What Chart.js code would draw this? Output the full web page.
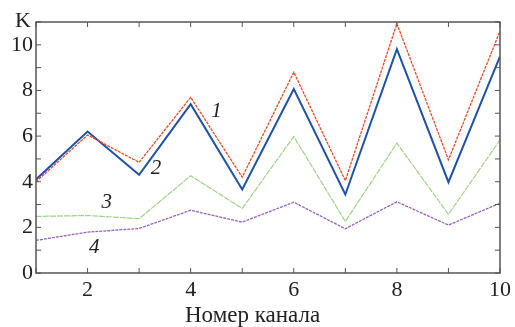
<!doctype html>
<html lang="ru">
<head>
<meta charset="utf-8">
<script src="https://cdn.jsdelivr.net/npm/chart.js"></script>
<title>K по каналам</title>
<style>
  body { margin: 0; background: #fff; }
  #wrap { width: 515px; height: 327px; }
</style>
</head>
<body>
<div id="wrap"><canvas id="myChart" width="515" height="327"></canvas></div>
<script>
// channel numbers and K values
var channels = [1, 2, 3, 4, 5, 6, 7, 8, 9, 10];
var curve1 = [4.0, 6.05, 4.85, 7.7, 4.2, 8.8, 4.05, 10.93, 4.96, 10.6];
var curve2 = [4.1, 6.2, 4.3, 7.4, 3.66, 8.06, 3.44, 9.81, 3.98, 9.49];
var curve3 = [2.48, 2.52, 2.38, 4.26, 2.83, 5.98, 2.26, 5.69, 2.57, 5.83];
var curve4 = [1.43, 1.79, 1.95, 2.75, 2.23, 3.1, 1.94, 3.12, 2.1, 3.06];
// curve number labels, placed in data coordinates
var curveLabels = [
  { text: '1', x: 4.5, y: 7.1 },
  { text: '2', x: 3.33, y: 4.58 },
  { text: '3', x: 2.37, y: 3.09 },
  { text: '4', x: 2.13, y: 1.12 }
];
var xTitle = 'Номер канала';

function pts(arr) {
  return channels.map(function (c, i) { return { x: c, y: arr[i] }; });
}

var serif = "'Liberation Serif', 'Times New Roman', serif";

// frame with inward ticks on all four sides, plus the K, axis title and curve labels
var framePlugin = {
  id: 'frame',
  afterDraw: function (chart) {
    var ctx = chart.ctx;
    var a = chart.chartArea;
    var xs = chart.scales.x, ys = chart.scales.y;
    ctx.save();
    ctx.strokeStyle = '#555';
    ctx.lineWidth = 1.5;
    ctx.strokeRect(a.left, a.top, a.right - a.left, a.bottom - a.top);
    ctx.lineWidth = 1;
    var len = 5;
    for (var v = 1; v <= 10; v++) {
      var px = xs.getPixelForValue(v);
      ctx.beginPath();
      ctx.moveTo(px, a.bottom); ctx.lineTo(px, a.bottom - len);
      ctx.moveTo(px, a.top); ctx.lineTo(px, a.top + len);
      ctx.stroke();
    }
    for (var w = 0; w <= 11; w++) {
      var py = ys.getPixelForValue(w);
      ctx.beginPath();
      ctx.moveTo(a.left, py); ctx.lineTo(a.left + len, py);
      ctx.moveTo(a.right, py); ctx.lineTo(a.right - len, py);
      ctx.stroke();
    }
    ctx.fillStyle = '#222';
    ctx.font = '22px ' + serif;
    ctx.textAlign = 'right';
    ctx.textBaseline = 'middle';
    ctx.fillText('K', a.left - 5, a.top - 1);
    ctx.textAlign = 'center';
    ctx.font = '23px ' + serif;
    ctx.fillText(xTitle, xs.getPixelForValue(5.2), a.bottom + 43);
    ctx.font = 'italic 21px ' + serif;
    curveLabels.forEach(function (l) {
      ctx.fillText(l.text, xs.getPixelForValue(l.x), ys.getPixelForValue(l.y));
    });
    ctx.restore();
  }
};

new Chart(document.getElementById('myChart'), {
  type: 'line',
  data: {
    datasets: [
      { label: '1', data: pts(curve1), borderColor: '#ee4a25', borderWidth: 1.3, borderDash: [3, 1] },
      { label: '2', data: pts(curve2), borderColor: '#1f52aa', borderWidth: 2 },
      { label: '3', data: pts(curve3), borderColor: '#9fd387', borderWidth: 1.2, borderDash: [6, 1] },
      { label: '4', data: pts(curve4), borderColor: '#9466bb', borderWidth: 1.3, borderDash: [3, 1] }
    ]
  },
  options: {
    responsive: false,
    animation: false,
    layout: { padding: { left: 0, right: 11, top: 22, bottom: 0 } },
    elements: { point: { radius: 0 }, line: { tension: 0 } },
    plugins: { legend: { display: false }, tooltip: { enabled: false } },
    scales: {
      x: {
        type: 'linear', min: 1, max: 10,
        grid: { display: false, drawTicks: false },
        border: { display: false },
        ticks: {
          stepSize: 1, autoSkip: false, maxRotation: 0, padding: 4,
          color: '#222', font: { family: serif, size: 22 },
          callback: function (v) { return v % 2 === 0 ? v : ''; }
        },
        afterFit: function (s) { s.height = 54; }
      },
      y: {
        min: 0, max: 11,
        grid: { display: false, drawTicks: false },
        border: { display: false },
        ticks: {
          stepSize: 1, autoSkip: false, padding: 3,
          color: '#222', font: { family: serif, size: 22 },
          callback: function (v) { return v % 2 === 0 ? v : ''; }
        },
        afterFit: function (s) { s.width = 36; }
      }
    }
  },
  plugins: [framePlugin]
});
</script>
</body>
</html>
